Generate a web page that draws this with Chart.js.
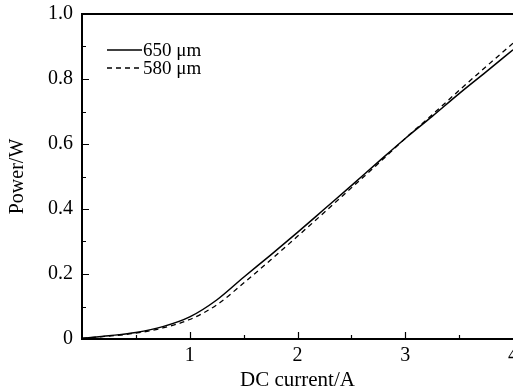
<!DOCTYPE html>
<html>
<head>
<meta charset="utf-8">
<script src="https://cdn.jsdelivr.net/npm/chart.js@4.4.0/dist/chart.umd.min.js"></script>
<style>
  html, body { margin: 0; padding: 0; background: #fff; }
  #wrap { width: 513px; height: 391px; }
</style>
</head>
<body>
<div id="wrap"><canvas id="chartarea" width="513" height="391"></canvas></div>
<script>
// DC current (A) vs output power (W), two cavity lengths
var current = [0, 0.25, 0.5, 0.75, 1.0, 1.25, 1.5, 1.75, 2.0, 2.25, 2.5, 2.75, 3.0, 3.25, 3.5, 3.75, 4.0];
var power650 = [0.002, 0.01, 0.02, 0.038, 0.068, 0.12, 0.19, 0.258, 0.328, 0.4, 0.472, 0.545, 0.617, 0.685, 0.755, 0.822, 0.89];
var power580 = [0.002, 0.009, 0.018, 0.034, 0.06, 0.105, 0.172, 0.243, 0.316, 0.39, 0.465, 0.54, 0.617, 0.69, 0.765, 0.838, 0.91];
var seriesNames = ['650 \u03bcm', '580 \u03bcm'];
var xTicks = [1, 2, 3, 4];
var yTicks = [0, 0.2, 0.4, 0.6, 0.8, 1.0];

var serif = "'Liberation Serif', 'DejaVu Serif', serif";

function pts(ys) {
    return current.map(function (x, i) { return { x: x, y: ys[i] }; });
}

// frame, inward ticks and the little legend in the top-left corner
var frame = {
    id: 'frame',
    afterDraw: function (chart) {
        var c = chart.ctx, a = chart.chartArea;
        var xs = chart.scales.x, ys = chart.scales.y;
        c.save();
        c.strokeStyle = '#000';
        c.lineWidth = 2;
        c.beginPath();
        c.moveTo(a.right, a.top); c.lineTo(a.left, a.top);
        c.lineTo(a.left, a.bottom); c.lineTo(a.right, a.bottom);
        c.stroke();
        c.lineWidth = 1.2;
        c.beginPath();
        for (var v = 0.5; v < 4; v += 0.5) {
            var px = Math.round(xs.getPixelForValue(v)) + 0.5;
            var len = (v % 1 === 0) ? 7 : 4;
            c.moveTo(px, a.bottom); c.lineTo(px, a.bottom - len);
        }
        for (var k = 1; k < 10; k++) {
            var py = Math.round(ys.getPixelForValue(k / 10)) + 0.5;
            var l2 = (k % 2 === 0) ? 7 : 4;
            c.moveTo(a.left, py); c.lineTo(a.left + l2, py);
        }
        c.stroke();

        // legend
        c.font = '19px ' + serif;
        c.fillStyle = '#000';
        c.textBaseline = 'middle';
        chart.data.datasets.forEach(function (ds, i) {
            var ly = a.top + 36 + i * 18;
            c.lineWidth = ds.borderWidth;
            c.setLineDash(ds.borderDash || []);
            c.beginPath();
            c.moveTo(a.left + 25, ly); c.lineTo(a.left + 60, ly);
            c.stroke();
            c.setLineDash([]);
            c.fillText(ds.label, a.left + 61, ly + 1);
        });
        c.restore();
    }
};

new Chart(document.getElementById('chartarea'), {
    type: 'line',
    data: {
        datasets: [
            { label: seriesNames[0], data: pts(power650), borderColor: '#000', backgroundColor: 'transparent',
              borderWidth: 1.5, pointRadius: 0, tension: 0.4, cubicInterpolationMode: 'monotone' },
            { label: seriesNames[1], data: pts(power580), borderColor: '#000', backgroundColor: 'transparent',
              borderWidth: 1.3, borderDash: [5, 4], pointRadius: 0, tension: 0.4, cubicInterpolationMode: 'monotone' }
        ]
    },
    options: {
        animation: false,
        responsive: false,
        devicePixelRatio: 1,
        layout: { padding: { top: 14, right: 0, left: 0, bottom: 0 } },
        plugins: {
            tooltip: { enabled: false },
            legend: { display: false }
        },
        scales: {
            x: {
                type: 'linear',
                min: 0, max: 4,
                afterBuildTicks: function (s) { s.ticks = xTicks.map(function (v) { return { value: v }; }); },
                afterFit: function (s) { s.height = 52; s.paddingLeft = 0; s.paddingRight = 0; },
                grid: { display: false, drawTicks: false },
                border: { display: false },
                ticks: { color: '#000', padding: 5, maxRotation: 0,
                         font: { family: serif, size: 20 } },
                title: { display: true, text: 'DC current/A', color: '#000', padding: 0,
                         font: { family: serif, size: 21, lineHeight: 1.0 } }
            },
            y: {
                min: 0, max: 1.0,
                afterBuildTicks: function (s) { s.ticks = yTicks.map(function (v) { return { value: v }; }); },
                afterFit: function (s) { s.width = 82; s.paddingTop = 0; s.paddingBottom = 0; },
                grid: { display: false, drawTicks: false },
                border: { display: false },
                ticks: { color: '#000', padding: 9,
                         callback: function (v) { return v === 0 ? '0' : v.toFixed(1); },
                         font: { family: serif, size: 20 } },
                title: { display: true, text: 'Power/W', color: '#000', padding: { top: 6 },
                         font: { family: serif, size: 20 } }
            }
        }
    },
    plugins: [frame]
});
</script>
</body>
</html>
